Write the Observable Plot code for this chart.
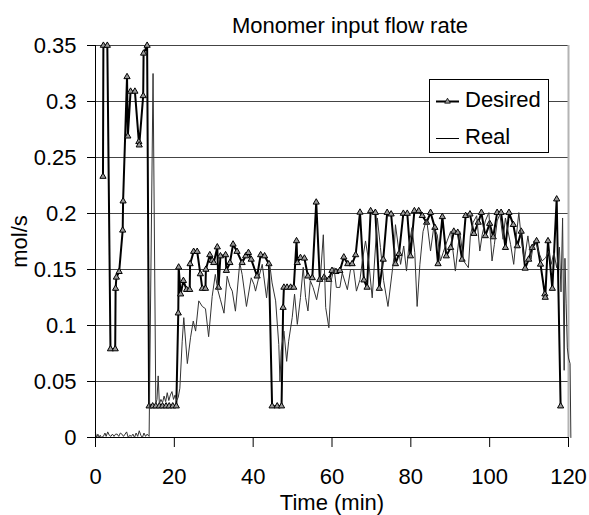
<!DOCTYPE html>
<html><head><meta charset="utf-8">
<script src="https://cdn.jsdelivr.net/npm/d3@7"></script>
<script src="https://cdn.jsdelivr.net/npm/@observablehq/plot@0.6"></script>
<style>
body{margin:0;background:#fff;font-family:"Liberation Sans",Arial,sans-serif;}
#wrap{position:relative;width:589px;height:515px;}
#legend{position:absolute;left:0;top:0;pointer-events:none;}
</style></head><body><div id="wrap"></div>
<script>
const title = "Monomer input flow rate";
const xLabel = "Time (min)";
const yLabel = "mol/s";
const xTicks = [0, 20, 40, 60, 80, 100, 120];
const yTicks = [0, 0.05, 0.1, 0.15, 0.2, 0.25, 0.3, 0.35];
const seriesNames = ["Desired", "Real"];

const desiredTime = [1.9, 2.0, 3.0, 3.8, 5.0, 5.1, 5.3, 6.0, 6.9, 7.0, 8.0, 8.2, 8.9, 10.0, 11.0, 11.1, 12.1, 12.2, 13.1,
  13.6, 14.5, 15.3, 16.2, 17.0, 17.9, 18.7, 19.6, 20.5,
  21.0, 21.1, 21.6, 22.3, 23.1, 23.9, 24.0, 24.9, 25.8, 26.6, 27.1, 27.9, 28.0, 29.0, 29.6, 30.0, 30.9, 31.2, 31.7,
  33.0, 33.2, 34.1, 34.9, 35.9, 37.2, 38.1, 38.8, 39.5, 41.0, 41.9, 42.9, 44.0, 44.8, 46.1, 47.2, 47.6, 47.8, 48.6,
  49.5, 50.3, 51.0, 51.2, 52.0, 53.0, 53.9, 55.0, 56.0, 56.9, 58.0, 59.2, 60.0, 61.0, 62.0, 63.0, 64.0, 65.1, 66.0,
  67.1, 68.1, 68.9, 69.8, 71.0, 72.0, 73.0, 74.0, 75.0, 76.1, 77.0, 78.1, 79.1, 79.9, 80.9, 82.0, 82.9, 84.0, 85.0,
  86.1, 86.9, 88.0, 89.0, 90.1, 90.9, 91.9, 93.0, 93.9, 95.0, 96.0, 97.1, 97.9, 98.9, 100.0, 100.9, 101.9, 102.9,
  104.0, 104.9, 106.0, 107.0, 108.0, 109.0, 109.9, 110.8, 111.9, 112.9, 114.0, 114.1, 114.8, 115.9, 117.0, 118.0];
const desiredRate = [0.233, 0.35, 0.35, 0.079, 0.079, 0.133, 0.143, 0.148, 0.185, 0.211, 0.322, 0.269, 0.309, 0.309, 0.264, 0.261, 0.305, 0.343, 0.35,
  0.028, 0.028, 0.028, 0.028, 0.028, 0.028, 0.028, 0.028, 0.028,
  0.111, 0.152, 0.128, 0.14, 0.132, 0.132, 0.155, 0.166, 0.166, 0.146, 0.133, 0.133, 0.15, 0.163, 0.158, 0.156, 0.17, 0.134, 0.162,
  0.163, 0.149, 0.156, 0.1725, 0.166, 0.156, 0.162, 0.165, 0.159, 0.144, 0.163, 0.162, 0.155, 0.028, 0.028, 0.028, 0.116, 0.134, 0.134,
  0.134, 0.134, 0.1755, 0.156, 0.1605, 0.16, 0.144, 0.1425, 0.21, 0.141, 0.143, 0.141, 0.149, 0.148, 0.149, 0.161, 0.155, 0.155, 0.163,
  0.201, 0.1405, 0.134, 0.2023, 0.2008, 0.133, 0.159, 0.2008, 0.1994, 0.155, 0.164, 0.2, 0.2, 0.162, 0.2023, 0.2023, 0.198, 0.192, 0.2008,
  0.1874, 0.155, 0.197, 0.162, 0.1695, 0.184, 0.183, 0.159, 0.198, 0.1994, 0.182, 0.192, 0.2008, 0.18, 0.191, 0.179, 0.2008, 0.2008,
  0.1695, 0.2008, 0.19, 0.171, 0.184, 0.151, 0.159, 0.1695, 0.1755, 0.1546, 0.128, 0.125, 0.1755, 0.133, 0.2128, 0.028];

const realTime = [0, 0.3, 0.6, 0.9, 1.2, 1.5, 2.0, 2.4, 2.7, 3.1, 3.5, 3.9, 4.3, 4.7, 5.1, 5.5, 5.9, 6.3, 6.7, 7.1, 7.5, 7.9,
  8.3, 8.7, 9.1, 9.5, 9.9, 10.3, 10.7, 11.1, 11.5, 11.9, 12.3, 12.7, 13.1, 13.6,
  14.6, 15.3, 15.6, 15.9, 16.2, 16.6, 17.0, 17.4, 17.8, 18.2, 18.6, 19.0, 19.4, 19.8, 20.2, 20.6, 21.0, 21.4, 22.0, 22.4,
  23.3, 24.1, 24.8, 25.4, 26.2, 27.1, 27.9, 28.7, 29.6, 30.4, 31.0, 31.7, 32.6, 33.4, 34.1, 34.7, 35.5, 36.6, 37.2, 38.3,
  39.5, 40.2, 40.6, 41.4, 42.3, 43.4, 44.2, 44.8, 45.7, 46.5, 46.8, 47.1, 47.8, 48.5, 49.0, 49.9, 50.5, 51.2, 52.0, 52.7,
  53.3, 53.9, 54.5, 55.2, 56.1, 57.0, 57.8, 58.4, 59.2, 59.8, 60.5, 61.1, 62.0, 62.6, 63.9, 64.7, 65.5, 66.2, 67.1, 67.7,
  68.5, 69.3, 70.2, 71.5, 72.3, 73.1, 74.2, 75.7, 76.1, 77.4, 78.2, 78.9, 79.5, 80.3, 81.0, 81.6, 82.3, 83.1, 84.0, 85.0,
  85.8, 86.7, 87.5, 88.2, 89.2, 90.1, 91.3, 92.4, 93.4, 94.6, 95.1, 95.8, 96.7, 97.5, 98.1, 98.9, 99.8, 100.6, 101.2, 101.9,
  102.6, 103.4, 104.0, 105.3, 106.1, 106.8, 107.4, 108.0, 108.8, 109.7, 110.5, 111.2, 111.9, 112.5, 113.3, 114.2, 115.0,
  115.6, 116.3, 117.0, 117.7, 118.1, 118.5, 118.9, 119.1, 119.4, 119.7, 120.0, 120.4, 120.6];
const realRate = [0.004, 0, 0.003, 0, 0.002, 0, 0.001, 0.004, 0.001, 0.005, 0.002, 0.001, 0.003, 0.001, 0.003, 0.003, 0.001, 0.004, 0.003, 0.001, 0.003, 0.005,
  0, 0.002, 0.001, 0.003, 0, 0.004, 0.001, 0.006, 0.002, 0, 0.004, 0.001, 0.003, 0.001,
  0.325, 0.03, 0.034, 0.055, 0.03, 0.034, 0.031, 0.037, 0.032, 0.04, 0.033, 0.038, 0.041, 0.034, 0.038, 0.033, 0.036, 0.044, 0.086, 0.107,
  0.066, 0.089, 0.104, 0.095, 0.122, 0.117, 0.115, 0.09, 0.126, 0.1456, 0.132, 0.123, 0.111, 0.144, 0.135, 0.1307, 0.1128, 0.156, 0.1456, 0.117,
  0.1426, 0.1367, 0.1307, 0.1426, 0.1546, 0.1247, 0.1546, 0.138, 0.122, 0.083, 0.05, 0.077, 0.095, 0.068, 0.086, 0.107, 0.128, 0.101, 0.125, 0.152,
  0.125, 0.113, 0.14, 0.134, 0.123, 0.14, 0.181, 0.116, 0.098, 0.14, 0.1516, 0.134, 0.134, 0.147, 0.132, 0.15, 0.15, 0.1307, 0.141, 0.1576,
  0.1755, 0.1576, 0.1247, 0.196, 0.1695, 0.14, 0.117, 0.1605, 0.19, 0.1546, 0.171, 0.1486, 0.171, 0.1874, 0.165, 0.117, 0.1546, 0.184, 0.195, 0.1665,
  0.1874, 0.181, 0.1576, 0.165, 0.1755, 0.184, 0.1486, 0.184, 0.1576, 0.1516, 0.18, 0.192, 0.198, 0.1665, 0.181, 0.1934, 0.2008, 0.1576, 0.1725, 0.1934,
  0.1994, 0.177, 0.196, 0.1725, 0.1546, 0.181, 0.2008, 0.1784, 0.1576, 0.18, 0.159, 0.1755, 0.1725, 0.165, 0.1576, 0.1605, 0.1665,
  0.1546, 0.165, 0.1516, 0.17, 0.13, 0.196, 0.06, 0.16, 0.12, 0.08, 0.071, 0.066, 0];

const desired = desiredTime.map((t, i) => ({t, v: desiredRate[i]}));
const real = realTime.map((t, i) => ({t, v: realRate[i]}));
const fmt = d => String(+d.toFixed(2));
const FONT = "'Liberation Sans', Arial, Helvetica, sans-serif";

const chart = Plot.plot({
  width: 589, height: 515,
  marginLeft: 95, marginRight: 21, marginTop: 45, marginBottom: 78,
  style: {fontFamily: FONT, fontSize: "22px", color: "#000", background: "#fff", overflow: "visible"},
  x: {domain: [0, 120]},
  y: {domain: [0, 0.35]},
  marks: [
    Plot.gridY({ticks: yTicks.slice(1), stroke: "#444", strokeOpacity: 1}),
    Plot.ruleX([120], {stroke: "#b4b4b4", strokeWidth: 2}),
    Plot.line(desired, {x: "t", y: "v", stroke: "#000", strokeWidth: 2}),
    Plot.dot(desired, {x: "t", y: "v", symbol: "triangle", r: 2.3, fill: "#999", stroke: "#000", strokeWidth: 1}),
    Plot.line(real, {x: "t", y: "v", stroke: "#333", strokeWidth: 1}),
    Plot.axisX({ticks: xTicks, tickSize: 10, tickPadding: 21, tickFormat: d => String(d), label: xLabel, labelAnchor: "center", labelOffset: 72, labelArrow: "none"}),
    Plot.axisY({ticks: yTicks, tickSize: 8, tickPadding: 11, tickFormat: fmt, label: yLabel, labelAnchor: "center", labelOffset: 84, labelArrow: "none"}),
    Plot.ruleY([0], {stroke: "#000"}),
    Plot.ruleX([0], {stroke: "#000"}),
    Plot.text([title], {text: d => d, frameAnchor: "top", lineAnchor: "bottom", dy: -13, dx: 18, fontSize: 22})
  ]
});
const wrap = document.getElementById("wrap");
wrap.appendChild(chart);

// legend overlay
const lg = d3.select(wrap).append("svg").attr("id", "legend").attr("width", 589).attr("height", 515)
  .style("font-family", FONT).style("font-size", "22px");
lg.append("rect").attr("x", 429.5).attr("y", 79.5).attr("width", 119).attr("height", 73)
  .attr("fill", "#fff").attr("stroke", "#000").attr("stroke-width", 1);
const rows = [{name: seriesNames[0], y: 101.5, w: 2, marker: true}, {name: seriesNames[1], y: 138.5, w: 1, marker: false}];
rows.forEach(r => {
  lg.append("line").attr("x1", 436).attr("x2", 459).attr("y1", r.y).attr("y2", r.y).attr("stroke", "#000").attr("stroke-width", r.w);
  if (r.marker) lg.append("path").attr("d", d3.symbol(d3.symbolTriangle, 14)()).attr("transform", `translate(447.5,${r.y})`)
    .attr("fill", "#999").attr("stroke", "#000").attr("stroke-width", 0.8);
  lg.append("text").attr("x", 465).attr("y", r.y + 5.5).text(r.name);
});
</script></body></html>
